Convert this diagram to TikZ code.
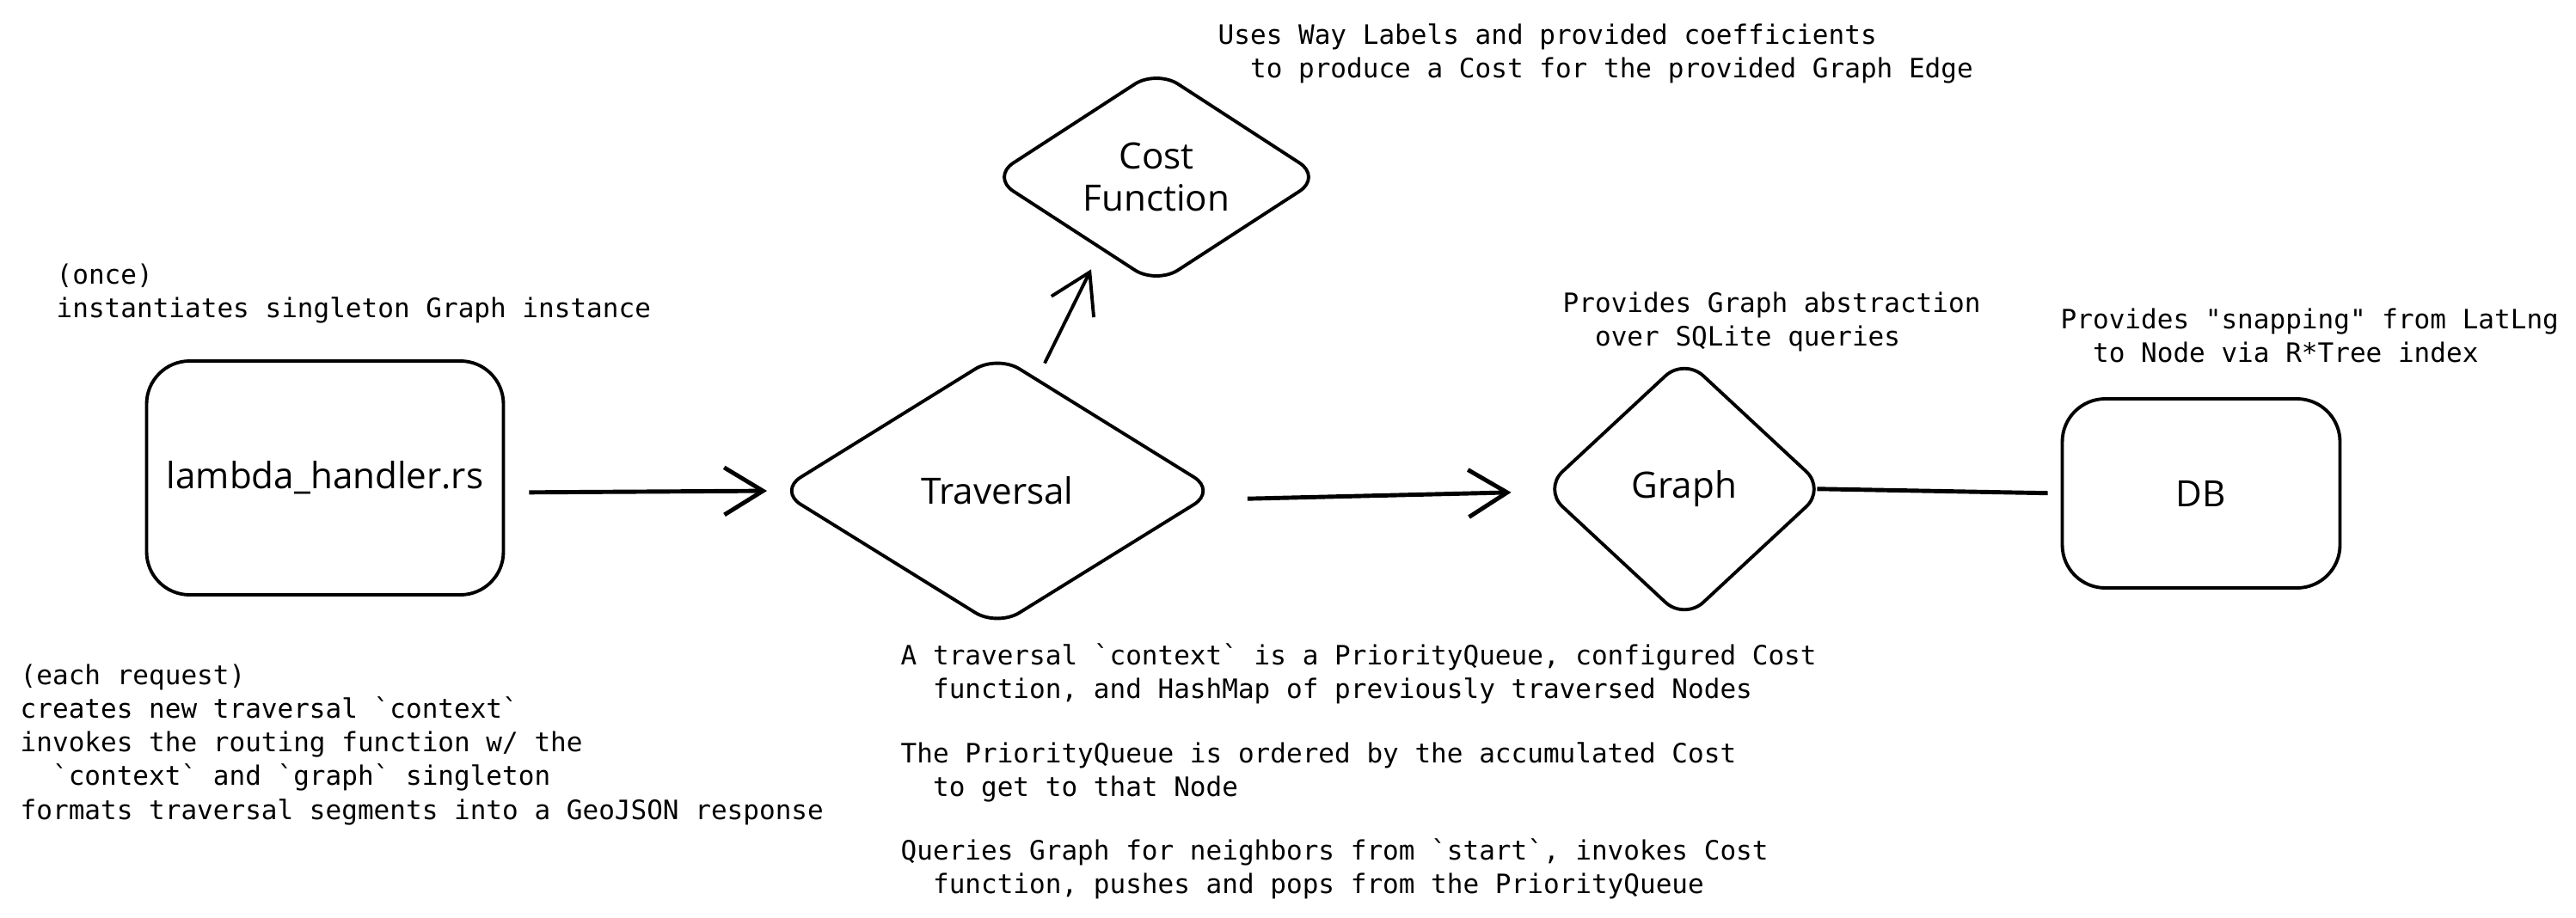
\documentclass[tikz,border=0pt]{standalone}
\usepackage{fontspec}
\setmonofont{DejaVu Sans Mono}
\newfontfamily\handfont{Open Sans}
\usetikzlibrary{arrows.meta, shapes.geometric}

\begin{document}
\begin{tikzpicture}[
    box/.style={draw, line width=1.1pt, rounded corners=0.5cm, font=\handfont\fontsize{12}{14}\selectfont},
    dia/.style={draw, diamond, line width=1.1pt, rounded corners=0.3cm, inner sep=0pt, align=center, font=\handfont\fontsize{12}{14}\selectfont},
    note/.style={anchor=north west, inner sep=0pt, align=left, font=\ttfamily\fontsize{8.83}{11.15}\selectfont},
    >={Straight Barb[length=4.5mm, width=5.5mm]}
]
\useasboundingbox (0,0) rectangle (29.96,10.67);

\node[box, minimum width=4.15cm, minimum height=2.72cm] (lam) at (3.78,5.11) {lambda\_handler.rs};
\node[dia, minimum width=5.1cm, minimum height=3.17cm] (trav) at (11.60,4.96) {Traversal};
\node[dia, minimum width=3.85cm, minimum height=2.32cm] (cost) at (13.45,8.61) {Cost\\Function};
\node[dia, minimum width=3.29cm, minimum height=3.06cm] (graph) at (19.59,4.98) {Graph};
\node[box, minimum width=3.23cm, minimum height=2.2cm] (db) at (25.60,4.93) {DB};

\node[note] (once) at (0.65,7.61) {(once)\\instantiates singleton Graph instance};
\node[note] (each) at (0.23,2.95) {(each request)\\creates new traversal `context`\\invokes the routing function w/ the\\\hphantom{xx}`context` and `graph` singleton\\formats traversal segments into a GeoJSON response};
\node[note] (ctx) at (10.47,3.19) {A traversal `context` is a PriorityQueue, configured Cost\\\hphantom{xx}function, and HashMap of previously traversed Nodes\\[10pt]The PriorityQueue is ordered by the accumulated Cost\\\hphantom{xx}to get to that Node\\[10pt]Queries Graph for neighbors from `start`, invokes Cost\\\hphantom{xx}function, pushes and pops from the PriorityQueue};
\node[note] (uses) at (14.16,10.40) {Uses Way Labels and provided coefficients\\\hphantom{xx}to produce a Cost for the provided Graph Edge};
\node[note] (abs) at (18.17,7.28) {Provides Graph abstraction\\\hphantom{xx}over SQLite queries};
\node[note] (snap) at (23.96,7.09) {Provides "snapping" from LatLng\\\hphantom{xx}to Node via R*Tree index};

\draw[->, line width=1.4pt, shorten <=0.28cm, shorten >=0.11cm] ([yshift=-0.17cm]lam.east) -- (trav.west);
\draw[->, line width=1.4pt, shorten <=0.34cm, shorten >=0.35cm] ([yshift=-0.1cm]trav.east) -- ([yshift=-0.03cm]graph.west);
\draw[->, line width=1.1pt] ([xshift=0.55cm, yshift=-0.12cm]trav.north) -- ([xshift=-0.76cm, yshift=0.2cm]cost.south);
\draw[line width=1.4pt, shorten <=-0.12cm, shorten >=0.15cm] (graph.east) -- (db.west);
\end{tikzpicture}
\end{document}
